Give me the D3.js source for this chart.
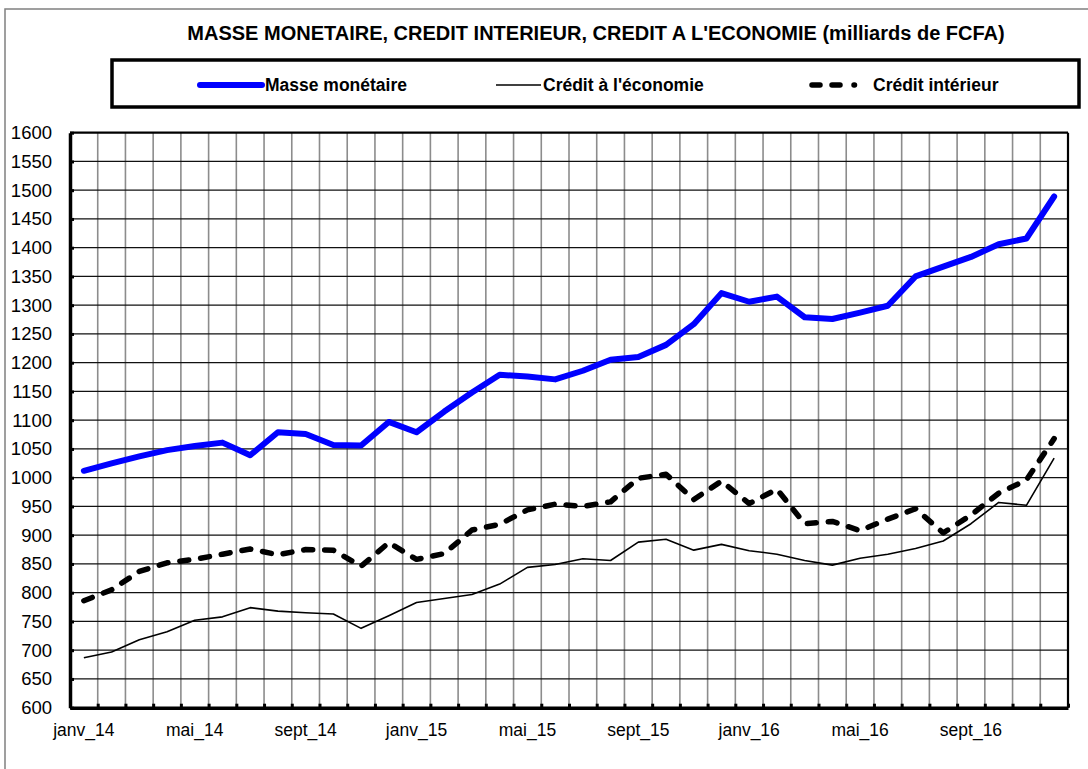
<!DOCTYPE html>
<html>
<head>
<meta charset="utf-8">
<script src="https://cdn.jsdelivr.net/npm/d3@7"></script>
<style>
  html, body { margin: 0; padding: 0; background: #fff; }
  svg { display: block; font-family: Arial, "Liberation Sans", sans-serif; }
</style>
</head>
<body>
<svg id="chart" width="1088" height="769"></svg>
<script>
// Months Jan 2014 – Dec 2016
const monthNames = ["janv", "févr", "mars", "avr", "mai", "juin", "juil", "août", "sept", "oct", "nov", "déc"];
const years = ["14", "15", "16"];
const months = years.flatMap(yr => monthNames.map(m => m + "_" + yr));
const tickLabels = ["janv_14", "mai_14", "sept_14", "janv_15", "mai_15", "sept_15", "janv_16", "mai_16", "sept_16"];
const yTicks = [600, 650, 700, 750, 800, 850, 900, 950, 1000, 1050, 1100, 1150, 1200, 1250, 1300, 1350, 1400, 1450, 1500, 1550, 1600];

// Series (milliards de FCFA)
const masseMonetaire = [1012, 1025, 1037, 1048, 1055, 1061, 1039, 1079, 1076, 1057, 1056, 1097,
                        1079, 1115, 1148, 1179, 1176, 1171, 1186, 1205, 1210, 1231, 1267, 1321,
                        1306, 1315, 1279, 1276, 1287, 1299, 1350, 1367, 1384, 1406, 1416, 1489];
const creditEconomie = [687, 697, 718, 732, 752, 758, 774, 768, 765, 763, 738, 760,
                        783, 790, 797, 815, 844, 849, 859, 856, 888, 893, 874, 884,
                        873, 867, 856, 848, 860, 867, 877, 890, 920, 957, 952, 1034];
const creditInterieur = [786, 805, 837, 852, 858, 867, 876, 866, 875, 874, 846, 887,
                         858, 868, 909, 919, 944, 954, 950, 958, 999, 1006, 962, 994,
                         955, 980, 920, 924, 908, 928, 946, 904, 935, 973, 996, 1068];

const title = "MASSE MONETAIRE, CREDIT INTERIEUR, CREDIT A L'ECONOMIE (milliards de FCFA)";
const seriesNames = ["Masse monétaire", "Crédit à l'économie", "Crédit intérieur"];

const svg = d3.select("#chart");
const plot = { left: 70, right: 1068, top: 132.7, bottom: 707.7 };

const x = d3.scaleBand().domain(months).range([plot.left, plot.right]);
const xEdge = d3.scaleLinear().domain([0, months.length]).range([plot.left, plot.right]);
const y = d3.scaleLinear().domain([600, 1600]).range([plot.bottom, plot.top]);
const cx = m => x(m) + x.bandwidth() / 2;

// Outer frame
svg.append("rect").attr("x", 5).attr("y", 9).attr("width", 1200).attr("height", 900)
  .attr("fill", "#fff").attr("stroke", "#808080").attr("stroke-width", 1.5);

// Title
svg.append("text").attr("x", 596).attr("y", 40).attr("text-anchor", "middle")
  .attr("font-weight", "bold").attr("font-size", 20).text(title);

// Legend box
svg.append("rect").attr("x", 112).attr("y", 60).attr("width", 967).attr("height", 47)
  .attr("fill", "#fff").attr("stroke", "#000").attr("stroke-width", 3.5);

const dash = "9,12";
const legend = [
  { name: seriesNames[0], x1: 200, x2: 262, tx: 265, color: "#0000ff", w: 6, dash: null, cap: "round" },
  { name: seriesNames[1], x1: 496, x2: 541, tx: 543, color: "#000", w: 1.5, dash: null, cap: "butt" },
  { name: seriesNames[2], x1: 812, x2: 864, tx: 873, color: "#000", w: 5.5, dash: "8,12,8,14,0.5,100", cap: "round" }
];
legend.forEach(l => {
  svg.append("line").attr("x1", l.x1).attr("x2", l.x2).attr("y1", 85).attr("y2", 85)
    .attr("stroke", l.color).attr("stroke-width", l.w).attr("stroke-linecap", l.cap)
    .attr("stroke-dasharray", l.dash);
  svg.append("text").attr("x", l.tx).attr("y", 91).attr("font-weight", "bold")
    .attr("font-size", 17.5).text(l.name);
});

// Grid: vertical lines between months, horizontal at every 50
const grid = svg.append("g");
grid.selectAll("line.v").data(d3.range(1, months.length)).join("line")
  .attr("x1", d => xEdge(d)).attr("x2", d => xEdge(d))
  .attr("y1", plot.top).attr("y2", plot.bottom)
  .attr("stroke", "#8c8c8c").attr("stroke-width", 1.6);
grid.selectAll("line.h").data(yTicks.slice(1, -1)).join("line")
  .attr("x1", plot.left).attr("x2", plot.right)
  .attr("y1", d => y(d)).attr("y2", d => y(d))
  .attr("stroke", "#111").attr("stroke-width", 1.2);

// Plot frame top and right
svg.append("line").attr("x1", plot.left).attr("x2", plot.right).attr("y1", plot.top).attr("y2", plot.top)
  .attr("stroke", "#000").attr("stroke-width", 2.2);
svg.append("line").attr("x1", plot.right).attr("x2", plot.right).attr("y1", plot.top).attr("y2", plot.bottom)
  .attr("stroke", "#000").attr("stroke-width", 2.2);

// Y axis
const yAxis = svg.append("g").attr("transform", `translate(${plot.left},0)`)
  .call(d3.axisLeft(y).tickValues(yTicks).tickSizeInner(-4).tickSizeOuter(0).tickPadding(18).tickFormat(d3.format("d")));
yAxis.select(".domain").attr("stroke-width", 3.5);
yAxis.selectAll(".tick line").attr("stroke-width", 3);
yAxis.selectAll("text").attr("font-size", 18.5).attr("fill", "#000").attr("font-family", null);

// X axis: tick marks at month boundaries, labels every four months
const xTicks = svg.append("g").attr("transform", `translate(0,${plot.bottom})`)
  .call(d3.axisBottom(xEdge).tickValues(d3.range(0, months.length + 1)).tickSizeInner(-4).tickSizeOuter(0).tickFormat(""));
xTicks.select(".domain").attr("stroke-width", 3.5);
xTicks.selectAll(".tick line").attr("stroke-width", 3);

const xLabels = svg.append("g").attr("transform", `translate(0,${plot.bottom})`)
  .call(d3.axisBottom(x).tickValues(tickLabels).tickSize(0).tickPadding(16));
xLabels.select(".domain").remove();
xLabels.selectAll("text").attr("font-size", 17.5).attr("fill", "#000").attr("font-family", null);

// Series lines
const line = d3.line().x((d, i) => cx(months[i])).y(d => y(d));
svg.append("path").datum(creditEconomie).attr("d", line)
  .attr("fill", "none").attr("stroke", "#000").attr("stroke-width", 1.6).attr("stroke-linejoin", "round");
svg.append("path").datum(creditInterieur).attr("d", line)
  .attr("fill", "none").attr("stroke", "#000").attr("stroke-width", 5.5)
  .attr("stroke-dasharray", dash).attr("stroke-linecap", "round").attr("stroke-linejoin", "round");
svg.append("path").datum(masseMonetaire).attr("d", line)
  .attr("fill", "none").attr("stroke", "#0000ff").attr("stroke-width", 6)
  .attr("stroke-linejoin", "round").attr("stroke-linecap", "round");
</script>
</body>
</html>
